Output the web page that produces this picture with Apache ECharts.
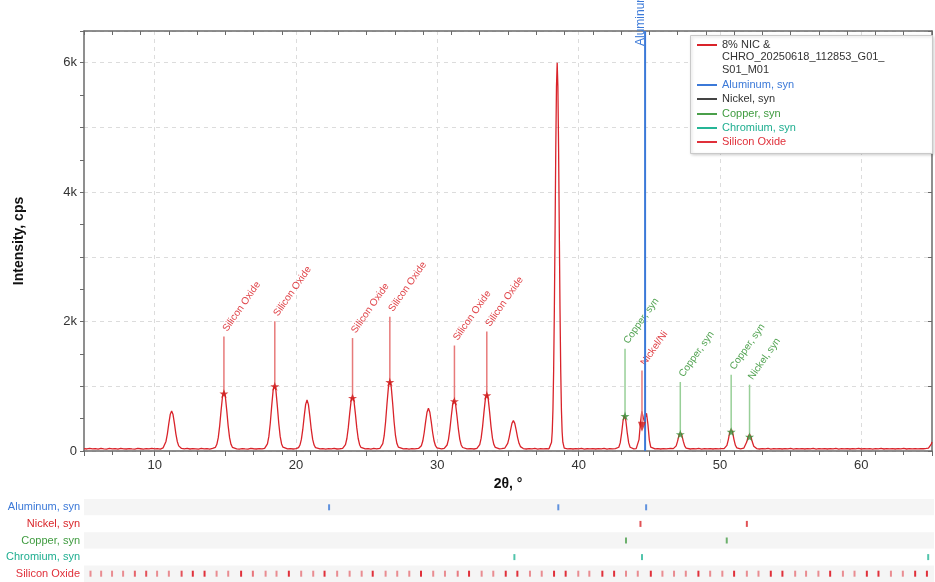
<!DOCTYPE html>
<html><head><meta charset="utf-8">
<script src="https://cdn.jsdelivr.net/npm/echarts@6/dist/echarts.min.js"></script>
<style>html,body{margin:0;padding:0;background:#fff}#chart{width:935px;height:582px}</style>
</head><body><div id="chart"></div>
<script>
// ---------- DATA ----------
const pattern = [
[5.0,38],[5.2,31],[5.4,42],[5.6,33],[5.8,37],[6.0,29],[6.2,40],[6.4,34],[6.6,30],[6.8,39],[7.0,33],[7.2,36],[7.4,28],[7.6,41],[7.8,34],[8.0,31],[8.2,38],[8.4,33],[8.6,29],[8.8,40],[9.0,35],[9.2,30],[9.4,37],[9.6,33],[9.8,41],[10.0,32],[10.2,36],[10.4,30],
[10.5,39],[10.6,49],[10.7,79],[10.8,147],[10.9,266],[11.0,422],[11.1,563],[11.2,620],[11.3,563],[11.4,422],[11.5,266],[11.6,147],[11.7,79],[11.8,49],[11.9,39],
[12.1,33],[12.3,40],[12.5,31],[12.7,37],[12.9,34],[13.1,29],[13.3,39],[13.5,33],[13.7,36],[13.9,30],[14.1,41],
[14.2,41],[14.3,57],[14.4,103],[14.5,206],[14.6,389],[14.7,627],[14.8,842],[14.9,930],[15.0,842],[15.1,627],[15.2,389],[15.3,206],[15.4,103],[15.5,57],[15.6,41],
[15.8,34],[16.0,30],[16.2,38],[16.4,33],[16.6,29],[16.8,40],[17.0,35],[17.2,31],[17.4,37],[17.6,32],
[17.78,41],[17.88,59],[17.98,110],[18.08,225],[18.18,428],[18.28,694],[18.38,933],[18.48,1030],[18.58,933],[18.68,694],[18.78,428],[18.88,225],[18.98,110],[19.08,59],[19.18,41],
[19.4,33],[19.6,38],[19.8,31],[20.0,36],
[20.08,40],[20.18,53],[20.28,92],[20.38,179],[20.48,333],[20.58,535],[20.68,716],[20.78,790],[20.88,716],[20.98,535],[21.08,333],[21.18,179],[21.28,92],[21.38,53],[21.48,40],
[21.7,32],[21.9,38],[22.1,30],[22.3,36],[22.5,33],[22.7,40],[22.9,31],[23.1,35],
[23.3,40],[23.4,55],[23.5,97],[23.6,193],[23.7,361],[23.8,581],[23.9,779],[24.0,860],[24.1,779],[24.2,581],[24.3,361],[24.4,193],[24.5,97],[24.6,55],[24.7,40],
[24.9,33],[25.1,37],[25.3,30],[25.5,39],[25.7,34],
[25.94,42],[26.04,61],[26.14,115],[26.24,236],[26.34,452],[26.44,733],[26.54,987],[26.64,1090],[26.74,987],[26.84,733],[26.94,452],[27.04,236],[27.14,115],[27.24,61],[27.34,42],
[27.6,32],[27.8,37],[28.0,30],[28.2,36],[28.4,33],
[28.67,39],[28.77,50],[28.87,82],[28.97,154],[29.07,282],[29.17,449],[29.27,599],[29.37,660],[29.47,599],[29.57,449],[29.67,282],[29.77,154],[29.87,82],[29.97,50],[30.07,39],
[30.3,33],
[30.49,40],[30.59,54],[30.69,93],[30.79,181],[30.89,337],[30.99,541],[31.09,725],[31.19,800],[31.29,725],[31.39,541],[31.49,337],[31.59,181],[31.69,93],[31.79,54],[31.89,40],
[32.1,32],[32.35,38],[32.6,31],
[32.8,40],[32.9,56],[33.0,100],[33.1,198],[33.2,373],[33.3,601],[33.4,806],[33.5,890],[33.6,806],[33.7,601],[33.8,373],[33.9,198],[34.0,100],[34.1,56],[34.2,40],
[34.4,33],[34.55,37],
[34.68,38],[34.78,46],[34.88,68],[34.98,118],[35.08,207],[35.18,323],[35.28,427],[35.38,470],[35.48,427],[35.58,323],[35.68,207],[35.78,118],[35.88,68],[35.98,46],[36.08,38],
[36.3,31],[36.5,37],[36.7,33],[36.9,39],[37.1,30],[37.3,36],[37.5,33],[37.7,38],[37.9,34],
[37.98,45],[38.08,136],[38.13,297],[38.18,637],[38.23,1246],[38.28,2182],[38.33,3393],[38.38,4658],[38.43,5630],[38.48,6000],[38.53,5630],[38.58,4658],[38.63,3393],[38.68,2182],[38.73,1246],[38.78,637],[38.83,297],[38.88,136],[38.98,45],
[39.2,33],[39.4,38],[39.6,31],[39.8,36],[40.0,33],[40.2,39],[40.4,30],[40.6,35],[40.8,32],[41.0,38],[41.2,31],[41.4,36],[41.6,33],[41.8,39],[42.0,30],[42.2,36],[42.4,33],[42.6,36],
[42.74,39],[42.84,58],[42.94,125],[43.04,275],[43.14,467],[43.24,560],[43.34,467],[43.44,275],[43.54,125],[43.64,58],[43.74,39],
[43.9,33],
[44.07,37],[44.17,60],[44.27,176],[44.37,435],[44.47,612],[44.57,519],[44.64,462],[44.70,503],[44.80,583],[44.90,413],[45.00,168],[45.10,59],[45.20,37],
[45.4,32],[45.6,38],[45.8,31],[46.0,36],[46.2,33],[46.5,39],
[46.7,37],[46.8,46],[46.9,79],[47.0,152],[47.1,245],[47.2,290],[47.3,245],[47.4,152],[47.5,79],[47.6,46],[47.7,37],
[47.9,31],[48.1,37],[48.3,33],[48.5,39],[48.7,30],[48.9,36],[49.1,33],[49.3,38],[49.5,31],[49.7,36],[49.9,34],[50.1,38],
[50.29,37],[50.39,49],[50.49,88],[50.59,177],[50.69,290],[50.79,345],[50.89,290],[50.99,177],[51.09,88],[51.19,49],[51.29,37],
[51.45,33],
[51.59,37],[51.69,45],[51.79,74],[51.89,138],[51.99,220],[52.09,260],[52.19,220],[52.29,138],[52.39,74],[52.49,45],[52.59,37],
[52.8,31],[53.0,37],[53.2,33],[53.4,39],[53.6,30],[53.8,36],[54.0,33],[54.2,38],[54.4,31],[54.6,36],[54.8,34],[55.0,39],[55.2,30],[55.4,36],[55.6,33],[55.8,38],[56.0,31],[56.2,37],[56.4,34],[56.6,39],[56.8,30],[57.0,36],[57.2,33],[57.4,38],[57.6,31],[57.8,36],[58.0,34],[58.2,39],[58.4,30],[58.6,37],[58.8,33],[59.0,38],[59.2,31],[59.4,36],[59.6,34],[59.8,39],[60.0,31],[60.2,37],[60.4,33],[60.6,38],[60.8,30],[61.0,36],[61.2,33],[61.4,39],[61.6,31],[61.8,37],[62.0,34],[62.2,38],[62.4,31],[62.6,36],[62.8,33],[63.0,39],[63.2,31],[63.4,37],[63.6,34],[63.8,38],[64.0,32],[64.2,37],[64.4,35],[64.6,40],[64.75,46],[64.85,62],[64.95,105],[65.0,140]
];

const xTickLabels = [10, 20, 30, 40, 50, 60];
const yTickValues = [0, 2000, 4000, 6000];
const yTickLabels = ['0', '2k', '4k', '6k'];

const seriesName = '8% NIC &\nCHRO_20250618_112853_G01_\nS01_M01';

// peak annotations
const annotX    = [14.90, 18.50, 24.00, 26.64, 31.21, 33.50, 43.28, 44.48, 47.19, 50.79, 52.09];
const annotPeak = [887, 1000, 820, 1066, 770, 860, 540, 375, 260, 297, 220];
const annotTop  = [1770, 2005, 1745, 2075, 1630, 1845, 1580, 1245, 1066, 1180, 1025];
const annotText = ['Silicon Oxide', 'Silicon Oxide', 'Silicon Oxide', 'Silicon Oxide', 'Silicon Oxide', 'Silicon Oxide',
                   'Copper, syn', 'Nickel/Ni', 'Copper, syn', 'Copper, syn', 'Nickel, syn'];
const annotKind = ['red', 'red', 'red', 'red', 'red', 'red', 'green', 'red', 'green', 'green', 'green'];
const annotMark = ['star', 'star', 'star', 'star', 'star', 'star', 'star', 'arrow', 'star', 'star', 'star'];

// aluminum reference line in the main plot
const alMainLine = [44.70];
const alMainLabel = 'Aluminum, syn';

// reference stick patterns
const phaseNames = ['Aluminum, syn', 'Nickel, syn', 'Copper, syn', 'Chromium, syn', 'Silicon Oxide'];
const alPos = [22.30, 38.48, 44.68];
const niPos = [44.28, 51.79];
const cuPos = [43.26, 50.37];
const crPos = [35.38, 44.39, 64.59];
const sioPos = [5.46, 6.21, 6.98, 7.76, 8.59, 9.39, 10.16, 10.99, 11.89, 12.68, 13.51, 14.36, 15.18, 16.09, 16.92, 17.82, 18.59, 19.46, 20.33, 21.18, 21.98, 22.87, 23.75, 24.60, 25.38,
  26.29, 27.11, 27.96, 28.79, 29.65, 30.48, 31.38, 32.18, 33.07, 33.89, 34.77, 35.59, 36.48, 37.31, 38.18, 39.00, 39.89, 40.67, 41.59, 42.42, 43.26, 44.09, 45.01,
  45.83, 46.65, 47.48, 48.37, 49.20, 50.06, 50.89, 51.79, 52.61, 53.48, 54.30, 55.20, 55.97, 56.84, 57.67, 58.57, 59.39, 60.26, 61.08, 61.96, 62.80, 63.67, 64.50];
const sioInt = [45, 45, 45, 45, 70, 80, 45, 45, 80, 100, 100, 45, 45, 100, 60, 45, 45, 100, 45, 45, 100, 45, 45, 45, 100,
  45, 45, 45, 100, 45, 45, 55, 100, 45, 45, 100, 100, 45, 45, 100, 100, 45, 45, 100, 100, 45, 45, 100,
  45, 45, 45, 100, 45, 45, 100, 45, 45, 100, 100, 45, 45, 45, 100, 45, 45, 100, 100, 45, 45, 100, 100];

const legendNames = [seriesName, 'Aluminum, syn', 'Nickel, syn', 'Copper, syn', 'Chromium, syn', 'Silicon Oxide'];

// ---------- STYLE ----------
const FONT = '"Liberation Sans", Arial, sans-serif';
const C = {
  curve: '#d9232a',
  al: '#3b79d8', ni: '#d9262a', niLegend: '#444444', cu: '#4a9f4a', cr: '#25b596', sio: '#e0303a',
  redLine: '#e77a7a', redText: '#e0454a', redMark: '#cf1b1b',
  greenLine: '#98cf98', greenText: '#52a352', greenMark: '#3a8e3a'
};
const legendLineColors = [C.curve, C.al, C.niLegend, C.cu, C.cr, C.sio];
const legendTextColors = ['#333333', C.al, '#333333', '#3f9b3f', '#1fae90', C.sio];
const stripColors = [C.al, C.ni, C.cu, C.cr, C.sio];

const X_MIN = 5, X_MAX = 65, Y_MAX = 6490;
const STAR = 'path://M50,0 L61,35 L98,35 L68,57 L79,91 L50,70 L21,91 L32,57 L2,35 L39,35 Z';
const ARROW = 'path://M0,0 L10,0 L5,12 Z';

const chart = echarts.init(document.getElementById('chart'), null, { renderer: 'canvas' });

const axisLineStyle = { color: '#6a6a6a', width: 1.5 };

const legendChildren = [
  { type: 'rect', z: 100, shape: { x: 690.5, y: 35.5, width: 242, height: 118 },
    style: { fill: '#ffffff', stroke: '#c9c9c9', lineWidth: 1, shadowBlur: 3, shadowColor: 'rgba(0,0,0,0.18)', shadowOffsetX: 1, shadowOffsetY: 1 } }
];
legendNames.forEach((n, i) => {
  const y = i === 0 ? 45 : Math.round(85 + (i - 1) * 14.3);
  legendChildren.push({ type: 'line', z: 101, shape: { x1: 697, y1: y, x2: 717, y2: y }, style: { stroke: legendLineColors[i], lineWidth: 2 } });
  legendChildren.push({ type: 'text', z: 101, x: 722, y: i === 0 ? y - 6.5 : y,
    style: { text: n, fill: legendTextColors[i], font: '11px ' + FONT, align: 'left', verticalAlign: i === 0 ? 'top' : 'middle', lineHeight: 12.6 } });
});

const option = {
  animation: false,
  backgroundColor: '#ffffff',
  textStyle: { fontFamily: FONT },
  grid: [
    { left: 84, right: 1, top: 31, bottom: 131, containLabel: false },
    { left: 84, right: 1, top: 499, height: 83, containLabel: false }
  ],
  xAxis: [
    { type: 'value', gridIndex: 0, min: X_MIN, max: X_MAX, interval: 5, position: 'bottom',
      name: '2θ, °', nameLocation: 'middle', nameGap: 24,
      nameTextStyle: { fontWeight: 'bold', fontSize: 14, color: '#111', fontFamily: FONT },
      axisLine: { show: true, onZero: false, lineStyle: axisLineStyle },
      axisTick: { show: true, length: 5, lineStyle: { color: '#6a6a6a' } },
      axisLabel: { margin: 8, fontSize: 13, color: '#333', fontFamily: FONT,
        formatter: v => xTickLabels.indexOf(v) >= 0 ? String(v) : '' },
      splitLine: { show: true, lineStyle: { color: ['rgba(0,0,0,0)', '#dcdcdc'], type: [4, 4], width: 1 } } },
    { type: 'value', gridIndex: 0, min: X_MIN, max: X_MAX, interval: 2, position: 'bottom',
      axisLine: { show: false, onZero: false },
      axisTick: { show: true, length: 4, lineStyle: { color: '#6a6a6a' } },
      axisLabel: { show: false }, splitLine: { show: false } },
    { type: 'value', gridIndex: 0, min: X_MIN, max: X_MAX, interval: 2, position: 'top',
      axisLine: { show: true, onZero: false, lineStyle: axisLineStyle },
      axisTick: { show: true, inside: true, length: 4, lineStyle: { color: '#6a6a6a' } },
      axisLabel: { show: false }, splitLine: { show: false } },
    { type: 'value', gridIndex: 1, min: X_MIN, max: X_MAX, show: false }
  ],
  yAxis: [
    { type: 'value', gridIndex: 0, min: 0, max: Y_MAX, interval: 1000, position: 'left',
      name: 'Intensity, cps', nameLocation: 'middle', nameGap: 58,
      nameTextStyle: { fontWeight: 'bold', fontSize: 14, color: '#111', fontFamily: FONT },
      axisLine: { show: true, onZero: false, lineStyle: axisLineStyle },
      axisTick: { show: true, length: 4, lineStyle: { color: '#6a6a6a' } },
      minorTick: { show: true, splitNumber: 2, length: 4, lineStyle: { color: '#6a6a6a' } },
      axisLabel: { margin: 7, fontSize: 13, color: '#333', fontFamily: FONT,
        formatter: v => { const k = yTickValues.indexOf(v); return k >= 0 ? yTickLabels[k] : ''; } },
      splitLine: { show: true, lineStyle: { color: '#dcdcdc', type: [4, 4], width: 1 } } },
    { type: 'value', gridIndex: 0, min: 0, max: Y_MAX, interval: 1000, position: 'right',
      axisLine: { show: true, onZero: false, lineStyle: axisLineStyle },
      axisTick: { show: true, inside: true, length: 4, lineStyle: { color: '#6a6a6a' } },
      axisLabel: { show: false }, splitLine: { show: false } },
    { type: 'category', gridIndex: 1, data: phaseNames, inverse: true,
      axisLine: { show: false }, axisTick: { show: false },
      axisLabel: { margin: 4, fontSize: 11, fontFamily: FONT,
        formatter: (v, i) => '{p' + i + '|' + v + '}',
        rich: {
          p0: { color: C.al, fontSize: 11, fontFamily: FONT },
          p1: { color: C.ni, fontSize: 11, fontFamily: FONT },
          p2: { color: '#3f9b3f', fontSize: 11, fontFamily: FONT },
          p3: { color: '#1fae90', fontSize: 11, fontFamily: FONT },
          p4: { color: C.sio, fontSize: 11, fontFamily: FONT }
        } },
      splitLine: { show: false },
      splitArea: { show: true, areaStyle: { color: ['#f5f5f5', '#ffffff'] } } }
  ],
  graphic: [{ type: 'group', silent: true, z: 100, children: legendChildren }],
  series: [
    { name: seriesName, type: 'line', xAxisIndex: 0, yAxisIndex: 0, data: pattern,
      showSymbol: false, symbol: 'none', smooth: false, z: 3,
      lineStyle: { color: C.curve, width: 1.3 } },
    { name: 'Aluminum, syn', type: 'custom', xAxisIndex: 0, yAxisIndex: 0, z: 5,
      data: alMainLine.map(v => [v]),
      renderItem: (params, api) => {
        const b = api.coord([api.value(0), 0]);
        const t = api.coord([api.value(0), Y_MAX]);
        return { type: 'group', children: [
          { type: 'line', shape: { x1: b[0], y1: b[1], x2: t[0], y2: t[1] }, style: { stroke: C.al, lineWidth: 2 } },
          { type: 'text', x: t[0] - 4, y: t[1] + 15, rotation: Math.PI / 2,
            style: { text: alMainLabel, fill: C.al, font: '12px ' + FONT, align: 'left', verticalAlign: 'middle' } }
        ] };
      } },
    { name: 'annotations', type: 'custom', xAxisIndex: 0, yAxisIndex: 0, z: 4,
      data: annotX.map((x, i) => [x, annotPeak[i], annotTop[i]]),
      renderItem: (params, api) => {
        const i = params.dataIndex;
        const top = api.coord([api.value(0), api.value(2)]);
        const bot = api.coord([api.value(0), api.value(1)]);
        const red = annotKind[i] === 'red';
        return { type: 'group', children: [
          { type: 'line', shape: { x1: top[0], y1: top[1], x2: bot[0], y2: bot[1] },
            style: { stroke: red ? C.redLine : C.greenLine, lineWidth: 1.5 } },
          { type: 'text', x: top[0] + 1, y: top[1] - 6, rotation: 55 * Math.PI / 180,
            style: { text: annotText[i], fill: red ? C.redText : C.greenText, font: '10px ' + FONT, align: 'left', verticalAlign: 'middle' } }
        ] };
      } },
    { name: 'markers', type: 'scatter', xAxisIndex: 0, yAxisIndex: 0, z: 6,
      data: annotX.map((x, i) => ({ value: [x, annotPeak[i]],
        symbol: annotMark[i] === 'star' ? STAR : ARROW,
        symbolSize: annotMark[i] === 'star' ? 9 : [8, 10],
        itemStyle: { color: annotKind[i] === 'red' ? C.redMark : C.greenMark } })) },
    ...[alPos, niPos, cuPos, crPos].map((arr, r) => ({
      name: phaseNames[r], type: 'scatter', xAxisIndex: 3, yAxisIndex: 2,
      symbol: 'rect', symbolSize: [2, 6], itemStyle: { color: stripColors[r] },
      data: arr.map(x => [x, phaseNames[r]]) })),
    { name: 'Silicon Oxide', type: 'scatter', xAxisIndex: 3, yAxisIndex: 2,
      symbol: 'rect', symbolSize: [2, 6],
      data: sioPos.map((x, i) => ({ value: [x, 'Silicon Oxide'], itemStyle: { color: C.sio, opacity: 0.15 + 0.85 * sioInt[i] / 100 } })) }
  ]
};
chart.setOption(option);
</script>
</body></html>
